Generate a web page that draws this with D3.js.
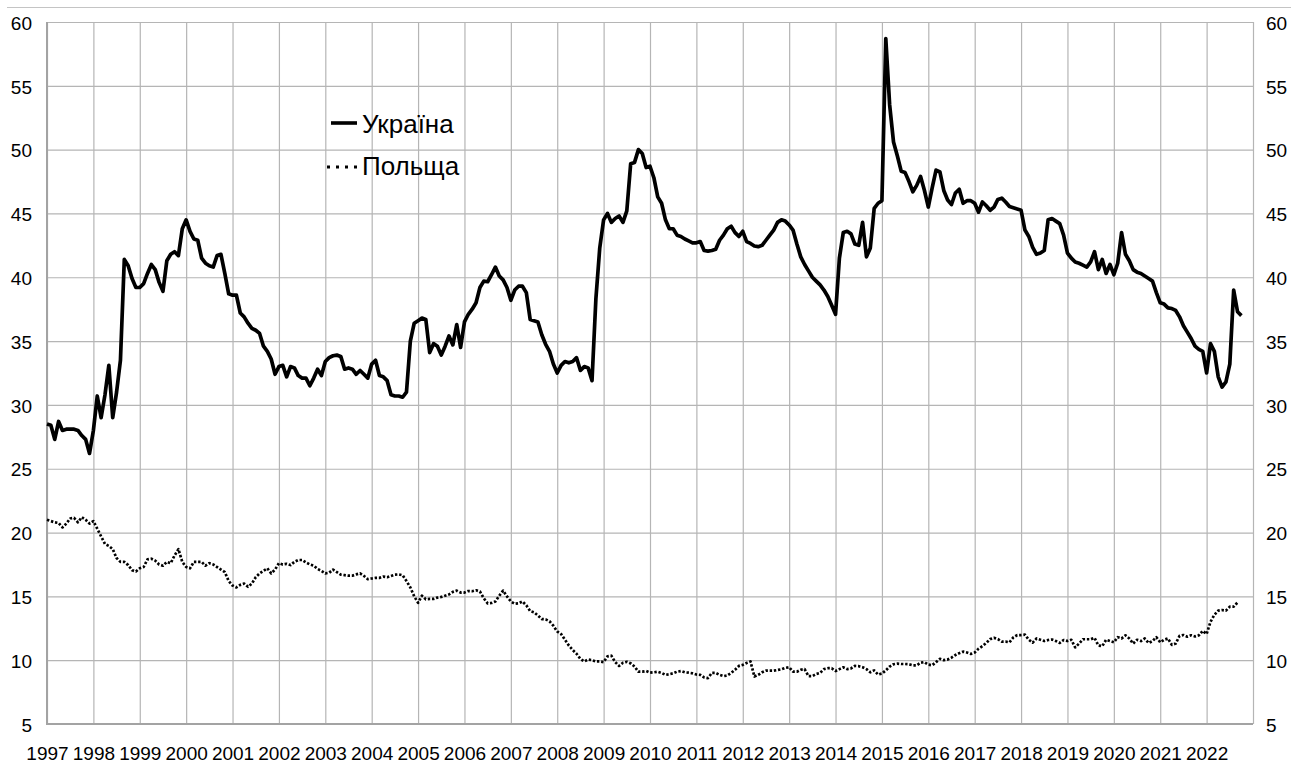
<!DOCTYPE html>
<html>
<head>
<meta charset="utf-8">
<title>Україна / Польща</title>
<script src="https://d3js.org/d3.v7.min.js"></script>
<style>
  body { margin: 0; background: #fff; }
  svg text { font-family: "Liberation Sans", Arial, sans-serif; fill: #000; }
</style>
</head>
<body>
<script>
// monthly values, starting January 1997
var startYear = 1997;

var ukraine = [
  28.5, 28.4, 27.3, 28.7, 28.0, 28.1, 28.1, 28.1, 28.0, 27.6, 27.3, 26.2,   // 1997
  28.0, 30.7, 29.0, 30.8, 33.1, 29.0, 31.0, 33.5, 41.4, 40.9, 39.9, 39.2,   // 1998
  39.2, 39.5, 40.3, 41.0, 40.6, 39.6, 38.9, 41.3, 41.8, 42.0, 41.7, 43.8,   // 1999
  44.5, 43.6, 43.0, 42.9, 41.5, 41.1, 40.9, 40.8, 41.7, 41.8, 40.3, 38.7,   // 2000
  38.6, 38.6, 37.2, 36.9, 36.4, 36.0, 35.85, 35.6, 34.6, 34.2, 33.6, 32.4,  // 2001
  33.0, 33.1, 32.2, 33.0, 32.9, 32.3, 32.1, 32.1, 31.5, 32.1, 32.8, 32.3,   // 2002
  33.4, 33.7, 33.85, 33.9, 33.8, 32.8, 32.9, 32.8, 32.4, 32.7, 32.4, 32.1,  // 2003
  33.2, 33.5, 32.3, 32.2, 31.9, 30.8, 30.7, 30.7, 30.6, 31.0, 35.0, 36.4,   // 2004
  36.6, 36.8, 36.7, 34.1, 34.8, 34.6, 33.9, 34.6, 35.4, 34.7, 36.3, 34.5,   // 2005
  36.5, 37.1, 37.5, 38.0, 39.2, 39.7, 39.65, 40.2, 40.8, 40.1, 39.8, 39.2,  // 2006
  38.2, 39.0, 39.3, 39.3, 38.8, 36.7, 36.6, 36.5, 35.5, 34.75, 34.2, 33.2,  // 2007
  32.5, 33.1, 33.4, 33.3, 33.4, 33.7, 32.7, 33.0, 32.9, 31.9, 38.3, 42.3,   // 2008
  44.5, 45.0, 44.3, 44.6, 44.8, 44.3, 45.2, 48.9, 49.0, 50.0, 49.7, 48.6,   // 2009
  48.7, 47.8, 46.3, 45.8, 44.5, 43.8, 43.8, 43.3, 43.2, 43.0, 42.85, 42.7,  // 2010
  42.7, 42.8, 42.1, 42.05, 42.1, 42.2, 42.9, 43.3, 43.8, 44.0, 43.5, 43.2,  // 2011
  43.6, 42.8, 42.65, 42.45, 42.4, 42.5, 42.9, 43.3, 43.7, 44.3, 44.5, 44.4, // 2012
  44.1, 43.7, 42.6, 41.6, 41.0, 40.5, 40.0, 39.7, 39.4, 39.0, 38.5, 37.8,   // 2013
  37.1, 41.5, 43.5, 43.6, 43.4, 42.6, 42.5, 44.3, 41.6, 42.3, 45.4, 45.8,   // 2014
  46.0, 58.7, 53.5, 50.6, 49.5, 48.3, 48.2, 47.5, 46.7, 47.2, 47.9, 46.8,   // 2015
  45.5, 47.0, 48.4, 48.25, 46.8, 46.05, 45.7, 46.6, 46.9, 45.8, 46.0, 46.0, // 2016
  45.8, 45.1, 45.9, 45.6, 45.25, 45.5, 46.1, 46.2, 45.9, 45.55, 45.45, 45.35, // 2017
  45.25, 43.7, 43.2, 42.35, 41.8, 41.9, 42.1, 44.5, 44.6, 44.4, 44.2, 43.3, // 2018
  41.9, 41.5, 41.2, 41.1, 40.95, 40.8, 41.2, 42.0, 40.6, 41.4, 40.3, 41.0,  // 2019
  40.2, 41.1, 43.5, 41.8, 41.3, 40.6, 40.4, 40.3, 40.1, 39.9, 39.7, 38.8,   // 2020
  38.0, 37.9, 37.6, 37.55, 37.4, 36.9, 36.2, 35.7, 35.2, 34.6, 34.35, 34.2, // 2021
  32.5, 34.8, 34.2, 32.2, 31.4, 31.8, 33.2, 39.0, 37.3, 37.0                // 2022
];

var poland = [
  21.0, 20.9, 20.8, 20.75, 20.4, 20.7, 21.1, 21.15, 20.8, 21.2, 21.0, 20.7, // 1997
  20.9, 20.3, 19.7, 19.1, 18.95, 18.7, 18.0, 17.7, 17.7, 17.45, 17.05, 16.95, // 1998
  17.2, 17.3, 17.9, 17.95, 17.8, 17.5, 17.4, 17.7, 17.6, 18.2, 18.7, 17.7,  // 1999
  17.3, 17.2, 17.7, 17.7, 17.7, 17.4, 17.6, 17.5, 17.3, 17.1, 16.9, 16.2,   // 2000
  15.85, 15.7, 15.9, 16.0, 15.75, 16.0, 16.5, 16.8, 17.0, 17.2, 16.8, 17.1, // 2001
  17.6, 17.5, 17.55, 17.45, 17.7, 17.85, 17.85, 17.65, 17.5, 17.4, 17.15, 17.0, // 2002
  16.8, 16.85, 17.1, 16.9, 16.7, 16.66, 16.62, 16.62, 16.72, 16.8, 16.6, 16.35, // 2003
  16.4, 16.45, 16.45, 16.55, 16.5, 16.6, 16.7, 16.72, 16.65, 16.2, 15.7, 15.0, // 2004
  14.5, 15.05, 14.77, 14.8, 14.8, 14.9, 14.95, 15.05, 15.15, 15.35, 15.45, 15.3, // 2005
  15.3, 15.42, 15.4, 15.48, 15.38, 14.85, 14.45, 14.48, 14.6, 15.05, 15.45, 15.0, // 2006
  14.6, 14.42, 14.45, 14.6, 14.3, 13.85, 13.75, 13.5, 13.22, 13.2, 13.05, 12.7, // 2007
  12.25, 12.05, 11.6, 11.15, 10.8, 10.5, 10.1, 9.9, 10.05, 10.0, 9.9, 9.9,  // 2008
  9.85, 10.3, 10.35, 9.85, 9.55, 9.8, 9.87, 9.75, 9.5, 9.1, 9.1, 9.15,      // 2009
  9.02, 9.05, 9.1, 9.0, 8.85, 8.9, 8.97, 9.1, 9.15, 9.05, 9.02, 8.97,       // 2010
  8.88, 8.85, 8.65, 8.6, 9.0, 9.0, 8.85, 8.75, 8.8, 9.0, 9.25, 9.55,        // 2011
  9.63, 9.78, 9.9, 8.72, 8.85, 9.05, 9.18, 9.18, 9.18, 9.23, 9.29, 9.4,     // 2012
  9.45, 9.1, 9.1, 9.25, 9.3, 8.75, 8.75, 8.92, 9.0, 9.3, 9.37, 9.37,        // 2013
  9.15, 9.3, 9.44, 9.3, 9.35, 9.55, 9.53, 9.45, 9.3, 9.05, 9.2, 8.88,       // 2014
  8.95, 9.2, 9.5, 9.68, 9.73, 9.7, 9.7, 9.68, 9.6, 9.6, 9.8, 9.85,         // 2015
  9.65, 9.6, 9.85, 10.1, 10.0, 10.05, 10.2, 10.4, 10.55, 10.67, 10.6, 10.49, // 2016
  10.6, 10.9, 11.1, 11.35, 11.65, 11.75, 11.65, 11.45, 11.45, 11.4, 11.78, 11.97, // 2017
  11.97, 12.0, 11.6, 11.37, 11.7, 11.6, 11.5, 11.58, 11.62, 11.5, 11.35, 11.58, // 2018
  11.5, 11.6, 11.0, 11.3, 11.64, 11.64, 11.64, 11.75, 11.15, 11.1, 11.6, 11.5, // 2019
  11.4, 11.8, 11.7, 11.95, 11.7, 11.3, 11.6, 11.5, 11.7, 11.35, 11.5, 11.8, // 2020
  11.4, 11.6, 11.7, 11.2, 11.3, 11.9, 11.97, 11.84, 11.95, 11.86, 11.95, 12.3, // 2021
  12.05, 13.0, 13.55, 13.88, 13.93, 13.88, 14.19, 14.19, 14.53             // 2022
];

var yearTicks = d3.range(1997, 2023);
var valueTicks = d3.range(5, 61, 5);
var seriesNames = ["Україна", "Польща"];

var W = 1291, H = 764;
var plot = { left: 47, right: 1253, top: 22, bottom: 724 };

var svg = d3.select("body").append("svg")
    .attr("width", W)
    .attr("height", H);

var x = d3.scaleLinear().domain([1997, 2023]).range([plot.left, plot.right]);
var y = d3.scaleLinear().domain([5, 60]).range([plot.bottom, plot.top]);

function toPoints(arr) {
  return arr.map(function(v, i) { return { t: startYear + i / 12, v: v }; });
}

// outer top border
svg.append("line")
    .attr("x1", 7).attr("x2", W).attr("y1", 7.5).attr("y2", 7.5)
    .attr("stroke", "#c4c4c4").attr("stroke-width", 1);

// left axis + horizontal grid
var gl = svg.append("g")
    .attr("transform", "translate(" + plot.left + ",0)")
    .call(d3.axisLeft(y).tickValues(valueTicks).tickFormat(d3.format("d"))
      .tickSize(-(plot.right - plot.left)).tickPadding(15));
gl.select(".domain").remove();
gl.selectAll(".tick line").attr("stroke", "#b5b5b5").attr("stroke-width", 1.2);
gl.selectAll(".tick text").style("font-size", "19px").attr("dy", "0.38em");

// right labels
var gr = svg.append("g")
    .attr("transform", "translate(" + plot.right + ",0)")
    .call(d3.axisRight(y).tickValues(valueTicks).tickFormat(d3.format("d"))
      .tickSize(0).tickPadding(13));
gr.select(".domain").remove();
gr.selectAll(".tick text").style("font-size", "19px").attr("dy", "0.38em");

// bottom axis + vertical grid
var gb = svg.append("g")
    .attr("transform", "translate(0," + plot.bottom + ")")
    .call(d3.axisBottom(x).tickValues(yearTicks.concat([2023])).tickFormat(d3.format("d"))
      .tickSize(-(plot.bottom - plot.top)).tickPadding(23));
gb.select(".domain").remove();
gb.selectAll(".tick line").attr("stroke", "#b5b5b5").attr("stroke-width", 1.2);
gb.selectAll(".tick text").style("font-size", "19px")
    .filter(function(d) { return d === 2023; }).remove();

// axis lines
svg.append("line")
    .attr("x1", plot.left).attr("x2", plot.left)
    .attr("y1", plot.top).attr("y2", plot.bottom + 1)
    .attr("stroke", "#a3a3a3").attr("stroke-width", 2);
svg.append("line")
    .attr("x1", plot.left - 1).attr("x2", plot.right)
    .attr("y1", plot.bottom).attr("y2", plot.bottom)
    .attr("stroke", "#a3a3a3").attr("stroke-width", 2);

var line = d3.line()
    .x(function(d) { return x(d.t); })
    .y(function(d) { return y(d.v); });

svg.append("path")
    .datum(toPoints(poland))
    .attr("fill", "none")
    .attr("stroke", "#000")
    .attr("stroke-width", 2.7)
    .attr("stroke-dasharray", "2.4 1.8")
    .attr("stroke-linejoin", "round")
    .attr("d", line);

svg.append("path")
    .datum(toPoints(ukraine))
    .attr("fill", "none")
    .attr("stroke", "#000")
    .attr("stroke-width", 3.7)
    .attr("stroke-linejoin", "round")
    .attr("d", line);

// legend
var lg = svg.append("g");
lg.append("line")
    .attr("x1", 331).attr("x2", 357).attr("y1", 123).attr("y2", 123)
    .attr("stroke", "#000").attr("stroke-width", 3.6);
lg.append("line")
    .attr("x1", 327).attr("x2", 358).attr("y1", 167).attr("y2", 167)
    .attr("stroke", "#000").attr("stroke-width", 3)
    .attr("stroke-dasharray", "3 6");
lg.selectAll("text")
    .data(seriesNames)
    .enter().append("text")
    .attr("x", 362)
    .attr("y", function(d, i) { return 133 + i * 42; })
    .style("font-size", "26px")
    .text(function(d) { return d; });
</script>
</body>
</html>
